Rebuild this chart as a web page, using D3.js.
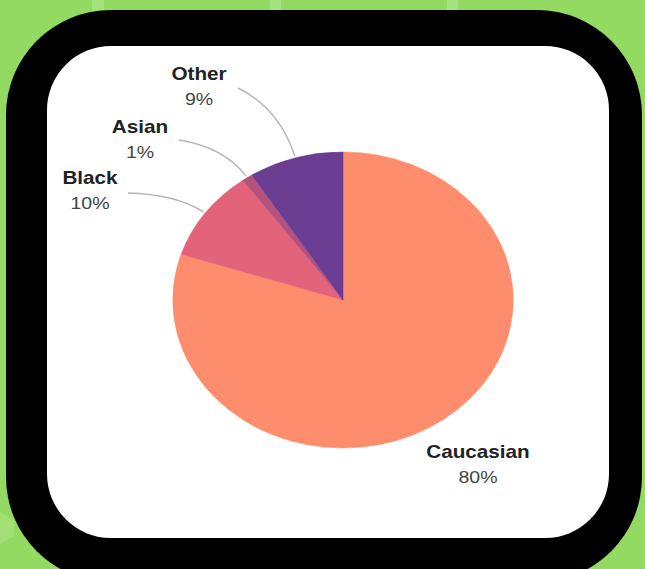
<!DOCTYPE html>
<html>
<head>
<meta charset="utf-8">
<script src="https://cdn.jsdelivr.net/npm/d3@7"></script>
<style>
  html, body { margin: 0; padding: 0; background: #92da62; }
  svg { display: block; }
</style>
</head>
<body>
<svg id="chart" width="645" height="569"></svg>
<script>
// Ethnic breakdown, in percent
const categories = ["Caucasian", "Black", "Asian", "Other"];
const shares = [80, 10, 1, 9];

const sliceColors = ["#fe8d6d", "#e2637a", "#b4517f", "#6a3d92"];

// Label anchors (text centre) in page pixels, and the point where each leader starts
const labelLayout = {
  Caucasian: { x: 478, y: 452, lead: null },
  Black:     { x: 90,  y: 178, lead: [128, 193], ctrlR: 180 },
  Asian:     { x: 140, y: 127, lead: [179, 140], ctrlR: 185 },
  Other:     { x: 199, y: 74,  lead: [238, 88],  ctrlR: 200 }
};

const W = 645, H = 569;
const svg = d3.select("#chart");

// ---- backdrop ----
svg.append("rect").attr("width", W).attr("height", H).attr("fill", "#92da62");
[[92, 12], [270, 11], [447, 11]].forEach(([x, w]) => {
  svg.append("rect").attr("x", x).attr("y", 0).attr("width", w).attr("height", 14)
    .attr("fill", "#a9e384").attr("opacity", 0.8);
});
svg.append("path")
  .attr("d", "M0,512 L14,520 L14,536 L0,544 Z")
  .attr("fill", "#a6e27e").attr("opacity", 0.7);

// black frame and white card
svg.append("rect")
  .attr("x", 6).attr("y", 10).attr("width", 636).attr("height", 572)
  .attr("rx", 105).attr("ry", 105).attr("fill", "#000");
svg.append("rect")
  .attr("x", 47).attr("y", 46).attr("width", 562).attr("height", 492)
  .attr("rx", 64).attr("ry", 64).attr("fill", "#fff");

// ---- pie ----
const cx = 343, cy = 300, R = 148, sx = 1.15;

const data = categories.map((c, i) => ({ name: c, value: shares[i], color: sliceColors[i] }));
const pie = d3.pie().value(d => d.value).sort(null);
const arcs = pie(data);
const arc = d3.arc().innerRadius(0).outerRadius(R);

const g = svg.append("g").attr("transform", `translate(${cx},${cy}) scale(${sx},1)`);
g.selectAll("path.slice")
  .data(arcs)
  .join("path")
  .attr("class", "slice")
  .attr("d", arc)
  .attr("fill", d => d.data.color)
  .attr("stroke", d => d.data.color)
  .attr("stroke-width", 0.5);

// polar point (angle measured clockwise from 12 o'clock) in page pixels
const polar = (a, r) => [cx + sx * r * Math.sin(a), cy - r * Math.cos(a)];

// ---- leader lines ----
arcs.forEach(a => {
  const L = labelLayout[a.data.name];
  if (!L.lead) return;
  const mid = (a.startAngle + a.endAngle) / 2;
  const end = polar(mid, R + 2);
  const ctrl = polar(mid, L.ctrlR);
  const p = d3.path();
  p.moveTo(L.lead[0], L.lead[1]);
  p.quadraticCurveTo(ctrl[0], ctrl[1], end[0], end[1]);
  svg.append("path").attr("d", p.toString())
    .attr("fill", "none").attr("stroke", "#b5b5b5").attr("stroke-width", 1.4);
});

// ---- labels ----
arcs.forEach(a => {
  const L = labelLayout[a.data.name];
  const t = svg.append("g").attr("transform", `translate(${L.x},${L.y}) scale(${sx},1)`);
  t.append("text")
    .attr("text-anchor", "middle").attr("dy", "0.35em")
    .attr("font-family", "Liberation Sans, Arial, sans-serif")
    .attr("font-weight", "bold").attr("font-size", 18).attr("fill", "#222")
    .text(a.data.name);
  t.append("text")
    .attr("text-anchor", "middle").attr("y", 25).attr("dy", "0.35em")
    .attr("font-family", "Liberation Sans, Arial, sans-serif")
    .attr("font-size", 17).attr("fill", "#444")
    .text(a.data.value + "%");
});
</script>
</body>
</html>
